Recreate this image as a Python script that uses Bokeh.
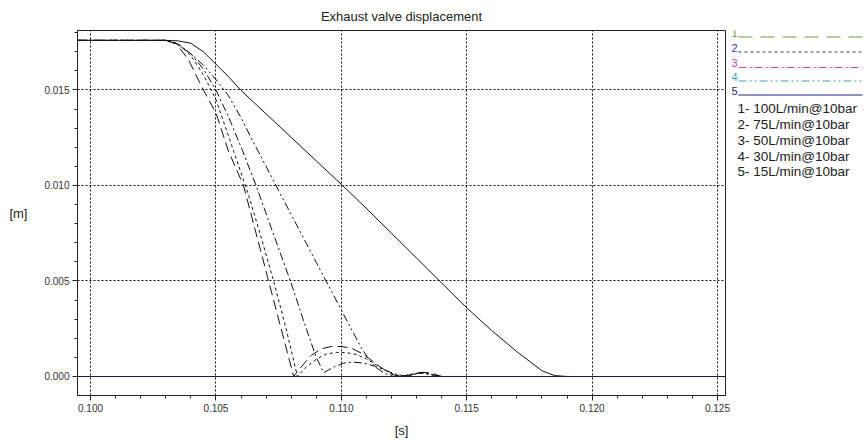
from bokeh.plotting import figure
from bokeh.layouts import row
from bokeh.models import Range1d, SingleIntervalTicker, PrintfTickFormatter, Span
from bokeh.core.properties import value
from bokeh.embed import file_html
from bokeh.resources import INLINE

FONT = "Liberation Sans"

# ---- data ----
t1 = [0.0995, 0.1029, 0.1034, 0.1039, 0.1045, 0.1050, 0.1055, 0.1061, 0.1066, 0.1071, 0.1076, 0.1081,
      0.1084, 0.1088, 0.1092, 0.1096, 0.1100, 0.1104, 0.1108, 0.1112, 0.1116, 0.1120, 0.1123, 0.1128,
      0.1132, 0.1136, 0.1140, 0.1150]
y1 = [0.0176, 0.0176, 0.01745, 0.0166, 0.0150, 0.0138, 0.0118, 0.0100, 0.0075, 0.0050, 0.0025, 0.0,
      0.0005, 0.0011, 0.00145, 0.00157, 0.00157, 0.00148, 0.00122, 0.00085, 0.00045, 0.00012, 0.0, 0.0001,
      0.00022, 0.00018, 0.0, 0.0]

t2 = [0.0995, 0.1030, 0.1035, 0.1040, 0.1045, 0.1050, 0.1057, 0.1063, 0.1068, 0.1073, 0.1078, 0.10825,
      0.1086, 0.1090, 0.1094, 0.1098, 0.1102, 0.1106, 0.1110, 0.1114, 0.1118, 0.1121, 0.1126, 0.1130,
      0.1134, 0.1138, 0.1150]
y2 = [0.0176, 0.0176, 0.01742, 0.0168, 0.0158, 0.0145, 0.01183, 0.0095, 0.0073, 0.0050, 0.0025, 0.0,
      0.0005, 0.0009, 0.00118, 0.00126, 0.00125, 0.00115, 0.00092, 0.0006, 0.0003, 0.0001, 0.0, 0.00015,
      0.0002, 0.0, 0.0]

t3 = [0.0995, 0.1030, 0.1035, 0.1040, 0.1045, 0.1050, 0.1055, 0.10606, 0.1066, 0.1072, 0.10797, 0.1085,
      0.1090, 0.1093, 0.1097, 0.1101, 0.1105, 0.1109, 0.1113, 0.1117, 0.1121, 0.1126, 0.1131, 0.1135,
      0.1140, 0.1150]
y3 = [0.0176, 0.0176, 0.0174, 0.0169, 0.0161, 0.0150, 0.0136, 0.01183, 0.0100, 0.0078, 0.0050, 0.0029,
      0.0010, 0.0002, 0.0005, 0.0007, 0.00075, 0.0007, 0.00055, 0.00035, 0.00015, 0.0, 0.0002, 0.00012,
      0.0, 0.0]

t4 = [0.0995, 0.1030, 0.1035, 0.1040, 0.1045, 0.1050, 0.1055, 0.1060, 0.1065, 0.1070, 0.1075, 0.1080,
      0.1085, 0.1090, 0.1095, 0.1100, 0.1105, 0.1108, 0.1111, 0.1114, 0.1117, 0.1120, 0.1124, 0.1128,
      0.1132, 0.1136, 0.1140, 0.1150]
y4 = [0.0176, 0.0176, 0.01735, 0.0169, 0.0163, 0.01555, 0.0147, 0.01355, 0.01225, 0.0110, 0.00973, 0.00848,
      0.00723, 0.00598, 0.00473, 0.00348, 0.00223, 0.0015, 0.0009, 0.00045, 0.00018, 0.00005, 0.0, 0.00012,
      0.0002, 0.0001, 0.0, 0.0]

t5 = [0.0995, 0.1030, 0.1035, 0.1040, 0.1045, 0.1050, 0.1055, 0.1060, 0.1070, 0.1080, 0.1090, 0.1100,
      0.1110, 0.1120, 0.1130, 0.1140, 0.1150, 0.1160, 0.1170, 0.1175, 0.1180, 0.1185, 0.1190, 0.1193]
y5 = [0.0176, 0.0176, 0.01757, 0.01745, 0.0170, 0.01635, 0.0157, 0.01498, 0.01375, 0.01252, 0.01129, 0.01006,
      0.0088, 0.0075, 0.0062, 0.0049, 0.0036, 0.0024, 0.0013, 0.0008, 0.0003, 0.00005, 0.0, 0.0]

series_t = [t1, t2, t3, t4, t5]
series_y = [y1, y2, y3, y4, y5]
series_num = ["1", "2", "3", "4", "5"]
legend_labels = ["1- 100L/min@10bar", "2- 75L/min@10bar", "3- 50L/min@10bar",
                 "4- 30L/min@10bar", "5- 15L/min@10bar"]

# ---- styles ----
dashes = ["10 5", "3 3", "8 3 2 3", "8 3 2 3 2 3", "solid"]
legend_colors = ["#76983a", "#3b3b8f", "#c24aa6", "#3fa6aa", "#23237e"]

p = figure(width=731, height=445, output_backend="svg", toolbar_location=None,
           x_range=Range1d(0.09948, 0.12532), y_range=Range1d(-0.000995, 0.018115),
           title="Exhaust valve displacement")
p.min_border_left = 77
p.min_border_right = 6
p.min_border_top = 30
p.min_border_bottom = 50
p.background_fill_color = "white"
p.border_fill_color = "white"
p.outline_line_color = "#222222"

p.title.align = "center"
p.title.vertical_align = "top"
p.title.text_font = FONT
p.title.text_font_size = "13px"
p.title.text_font_style = "normal"
p.title.text_color = "#222222"

for ax in (p.xaxis[0], p.yaxis[0]):
    ax.ticker = SingleIntervalTicker(interval=0.005, num_minor_ticks=5)
    ax.formatter = PrintfTickFormatter(format="%.3f")
    ax.major_label_text_font = FONT
    ax.major_label_text_font_size = "10px"
    ax.major_label_text_color = "#333333"
    ax.axis_label_text_font = FONT
    ax.axis_label_text_font_size = "13px"
    ax.axis_label_text_font_style = "normal"
    ax.axis_label_text_color = "#222222"
    ax.axis_line_color = "#222222"
    ax.major_tick_line_color = "#222222"
    ax.minor_tick_line_color = "#222222"
    ax.major_tick_in = 0
    ax.major_tick_out = 5
    ax.minor_tick_in = 0
    ax.minor_tick_out = 3
    ax.major_label_standoff = 3

p.xaxis.axis_label = "[s]"
p.xaxis.axis_label_standoff = 8
p.yaxis.axis_label = "[m]"
p.yaxis.axis_label_orientation = "horizontal"
p.yaxis.axis_label_standoff = 14

for g in (p.xgrid[0], p.ygrid[0]):
    g.ticker = SingleIntervalTicker(interval=0.005)
    g.grid_line_color = "#111111"
    g.grid_line_dash = "2 2"
    g.grid_line_width = 1

p.add_layout(Span(location=0.0, dimension="width", line_color="#1a1a3a", line_width=1.2))

for tx, ty, d in zip(series_t, series_y, dashes):
    p.line(tx, ty, line_color="#111111", line_width=1, line_dash=d)

# ---- legend panel (frame aligned with the main frame: pixel rows 30..395) ----
lg = figure(frame_width=136, frame_height=365, output_backend="svg", toolbar_location=None,
            x_range=Range1d(731, 867), y_range=Range1d(395, 30),
            x_axis_type=None, y_axis_type=None,
            min_border=0, min_border_left=0, min_border_right=0,
            min_border_top=30, min_border_bottom=50)
lg.outline_line_color = None
lg.grid.visible = False
lg.background_fill_color = "white"
lg.border_fill_color = "white"

line_y = [36.5, 51.5, 67, 80.5, 94.5]
for num, ly, c, d in zip(series_num, line_y, legend_colors, dashes):
    lg.line([738, 862], [ly, ly], line_color=c, line_width=1.2,
            line_dash=("14 8" if d == "10 5" else d))
    lg.text(x=[731], y=[ly - 0.5], text=[num], text_color=c, text_font=value(FONT),
            text_font_size="11px", text_baseline="bottom", text_align="left")

text_y = [108, 124, 140, 156, 171]
lg.text(x=[737] * len(legend_labels), y=text_y, text=legend_labels, text_color="#222222",
        text_font=value(FONT), text_font_size="13.5px", text_baseline="middle", text_align="left")

layout = row(p, lg, spacing=0)
open("out.html", "w").write(file_html(layout, INLINE))
